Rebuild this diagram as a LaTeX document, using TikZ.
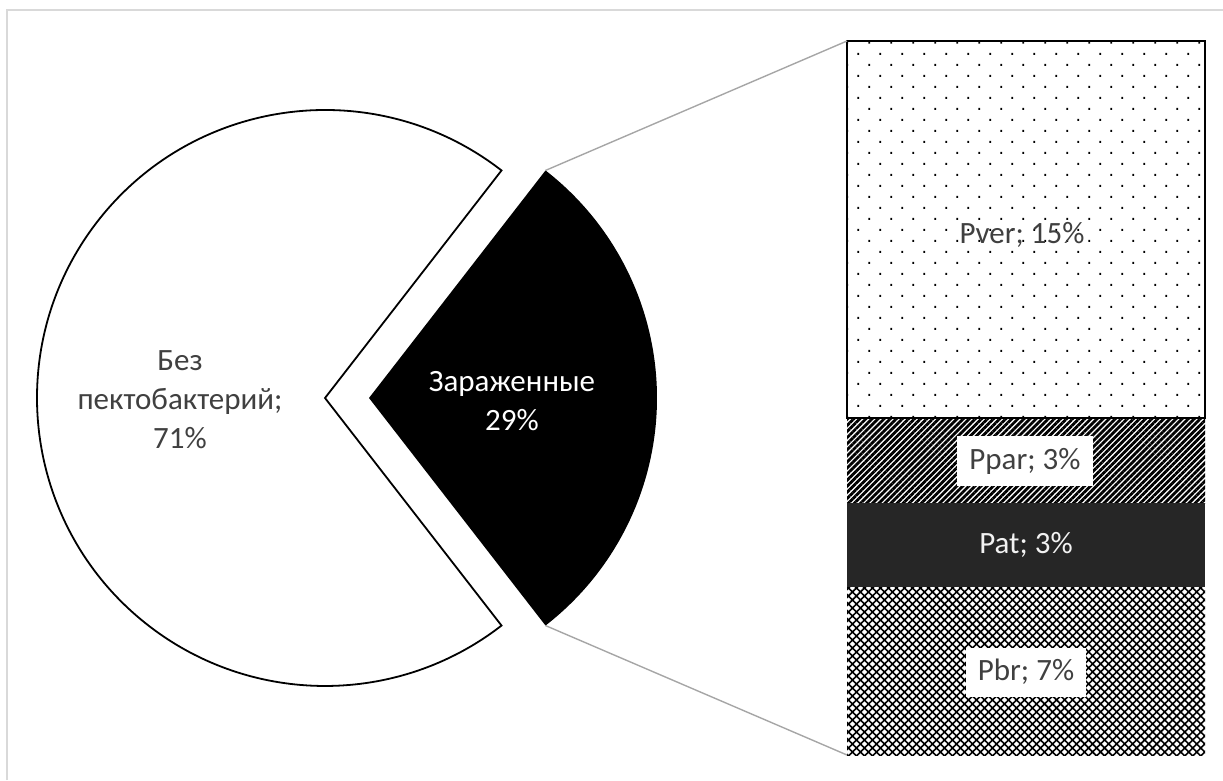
\documentclass[tikz,border=0pt]{standalone}
\usepackage{fontspec}
\setmainfont{Carlito}
\usetikzlibrary{patterns.meta}
\definecolor{labelgray}{HTML}{404040}
\definecolor{framegray}{HTML}{D9D9D9}
\definecolor{leadgray}{HTML}{A6A6A6}
\definecolor{darkfill}{HTML}{262626}
\definecolor{lighttext}{HTML}{F2F2F2}
\tikzset{
  lbl/.style={font=\fontsize{31}{39}\selectfont, text=labelgray, align=center},
  segment/.style={inner sep=0pt, outer sep=0pt, minimum width=358pt, anchor=north west},
  boxlbl/.style={lbl, fill=white, inner xsep=12pt, inner ysep=0pt, minimum height=49pt},
  leader/.style={draw=leadgray, line width=1.4pt},
  slice/.style={line width=1.8pt, line join=miter},
}
\begin{document}
\begin{tikzpicture}[x=1pt, y=1pt]
  \useasboundingbox (0,0) rectangle (1223,780);
  % outer frame (top and left edges)
  \draw[framegray, line width=1.5pt] (7,0) -- (7,770) -- (1223,770);

  % main pie slice (71%)
  \draw[slice, fill=white] (325,382) -- ++(52.2:288)
    arc[start angle=52.2, end angle=307.8, radius=288] -- cycle;
  % exploded slice (29%)
  \fill[black] (369,382) -- ++(-52.2:288) coordinate (bbot)
    arc[start angle=-52.2, end angle=52.2, radius=288] coordinate (btop) -- cycle;

  \node[lbl] (clean) at (180,380) {Без\\пектобактерий;\\71\%};
  \node[lbl, text=white] (infected) at (512,379) {Зараженные\\29\%};

  % stacked bar
  \node[segment, minimum height=377pt, draw=black, line width=1.8pt,
        pattern={Dots[angle=45, distance=15.56pt, radius=1.3pt]}] (pver) at (847,739) {};
  \node[segment, minimum height=85pt,
        pattern={Lines[angle=45, distance=4.3pt, line width=2.8pt]}] (ppar) at (847,362) {};
  \node[segment, minimum height=84pt, fill=darkfill] (pat) at (847,277) {};
  \node[segment, minimum height=168pt,
        pattern={Hatch[angle=45, distance=5.66pt, line width=1.6pt]}] (pbr) at (847,193) {};

  \node[lbl] (lver) at (1022,545) {Pver; 15\%};
  \node[boxlbl] (lpar) at (1025,319) {Ppar; 3\%};
  \node[lbl, text=lighttext] (lat) at (1026,235) {Pat; 3\%};
  \node[boxlbl] (lbr) at (1026,108) {Pbr; 7\%};

  % leader lines from the exploded slice to the bar
  \draw[leader] (btop) -- (pver.north west);
  \draw[leader] (bbot) -- (pbr.south west);
\end{tikzpicture}
\end{document}
